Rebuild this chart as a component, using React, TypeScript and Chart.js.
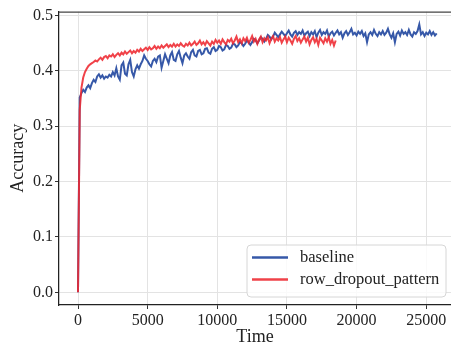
import React, { useEffect, useRef } from "react";
import { Chart, registerables } from "chart.js";

Chart.register(...registerables);

const baselineTime = [
  0, 125, 250, 375, 500, 625, 750, 875,
  1000, 1125, 1250, 1375, 1500, 1625, 1750, 1875,
  2000, 2125, 2250, 2375, 2500, 2625, 2750, 2875,
  3000, 3125, 3250, 3375, 3500, 3625, 3750, 3875,
  4000, 4125, 4250, 4375, 4500, 4625, 4750, 4875,
  5000, 5125, 5250, 5375, 5500, 5625, 5750, 5875,
  6000, 6125, 6250, 6375, 6500, 6625, 6750, 6875,
  7000, 7125, 7250, 7375, 7500, 7625, 7750, 7875,
  8000, 8125, 8250, 8375, 8500, 8625, 8750, 8875,
  9000, 9125, 9250, 9375, 9500, 9625, 9750, 9875,
  10000, 10125, 10250, 10375, 10500, 10625, 10750, 10875,
  11000, 11125, 11250, 11375, 11500, 11625, 11750, 11875,
  12000, 12125, 12250, 12375, 12500, 12625, 12750, 12875,
  13000, 13125, 13250, 13375, 13500, 13625, 13750, 13875,
  14000, 14125, 14250, 14375, 14500, 14625, 14750, 14875,
  15000, 15125, 15250, 15375, 15500, 15625, 15750, 15875,
  16000, 16125, 16250, 16375, 16500, 16625, 16750, 16875,
  17000, 17125, 17250, 17375, 17500, 17625, 17750, 17875,
  18000, 18125, 18250, 18375, 18500, 18625, 18750, 18875,
  19000, 19125, 19250, 19375, 19500, 19625, 19750, 19875,
  20000, 20125, 20250, 20375, 20500, 20625, 20750, 20875,
  21000, 21125, 21250, 21375, 21500, 21625, 21750, 21875,
  22000, 22125, 22250, 22375, 22500, 22625, 22750, 22875,
  23000, 23125, 23250, 23375, 23500, 23625, 23750, 23875,
  24000, 24125, 24250, 24375, 24500, 24625, 24750, 24875,
  25000, 25125, 25250, 25375, 25500, 25625, 25750,
];
const baselineAcc = [
  0.0, 0.352, 0.36, 0.366, 0.362, 0.37, 0.374, 0.369,
  0.378, 0.384, 0.38, 0.39, 0.394, 0.388, 0.392, 0.386,
  0.39, 0.388, 0.393, 0.39, 0.398, 0.392, 0.405, 0.39,
  0.384, 0.41, 0.415, 0.395, 0.392, 0.412, 0.42, 0.398,
  0.39, 0.403, 0.41, 0.404, 0.412, 0.418, 0.428, 0.422,
  0.418, 0.412, 0.408, 0.418, 0.422, 0.416, 0.426, 0.428,
  0.406, 0.418, 0.43, 0.422, 0.414, 0.428, 0.434, 0.42,
  0.418, 0.43, 0.436, 0.424, 0.414, 0.428, 0.432, 0.426,
  0.422, 0.434, 0.438, 0.428, 0.426, 0.436, 0.438, 0.43,
  0.432, 0.44, 0.441, 0.433, 0.431, 0.44, 0.443, 0.436,
  0.438, 0.445, 0.443, 0.437, 0.439, 0.447, 0.445, 0.44,
  0.442, 0.449, 0.448, 0.443, 0.446, 0.452, 0.45, 0.445,
  0.449, 0.455, 0.452, 0.447, 0.452, 0.458, 0.455, 0.45,
  0.455, 0.461, 0.458, 0.453, 0.458, 0.465, 0.462, 0.457,
  0.462, 0.469, 0.465, 0.461, 0.466, 0.471, 0.467, 0.463,
  0.468, 0.473, 0.466, 0.462, 0.469, 0.472, 0.465, 0.47,
  0.467, 0.473, 0.464, 0.468, 0.471, 0.463, 0.47, 0.466,
  0.472, 0.461, 0.469, 0.474, 0.465, 0.47, 0.467, 0.473,
  0.462, 0.468, 0.471, 0.464, 0.469, 0.473, 0.466, 0.47,
  0.46, 0.468, 0.472, 0.465, 0.47, 0.476, 0.466, 0.469,
  0.464, 0.471, 0.467, 0.472, 0.463, 0.468, 0.452, 0.466,
  0.47, 0.465, 0.474, 0.467, 0.463, 0.47, 0.466, 0.472,
  0.465, 0.469, 0.476, 0.466, 0.46, 0.468, 0.452, 0.467,
  0.471, 0.464, 0.473, 0.467, 0.47, 0.465, 0.474, 0.466,
  0.462, 0.47, 0.467, 0.472, 0.484, 0.466, 0.47, 0.463,
  0.469, 0.466, 0.472, 0.465, 0.47, 0.464, 0.468,
];

const rowDropoutTime = [
  0, 125, 250, 375, 500, 625, 750, 875,
  1000, 1125, 1250, 1375, 1500, 1625, 1750, 1875,
  2000, 2125, 2250, 2375, 2500, 2625, 2750, 2875,
  3000, 3125, 3250, 3375, 3500, 3625, 3750, 3875,
  4000, 4125, 4250, 4375, 4500, 4625, 4750, 4875,
  5000, 5125, 5250, 5375, 5500, 5625, 5750, 5875,
  6000, 6125, 6250, 6375, 6500, 6625, 6750, 6875,
  7000, 7125, 7250, 7375, 7500, 7625, 7750, 7875,
  8000, 8125, 8250, 8375, 8500, 8625, 8750, 8875,
  9000, 9125, 9250, 9375, 9500, 9625, 9750, 9875,
  10000, 10125, 10250, 10375, 10500, 10625, 10750, 10875,
  11000, 11125, 11250, 11375, 11500, 11625, 11750, 11875,
  12000, 12125, 12250, 12375, 12500, 12625, 12750, 12875,
  13000, 13125, 13250, 13375, 13500, 13625, 13750, 13875,
  14000, 14125, 14250, 14375, 14500, 14625, 14750, 14875,
  15000, 15125, 15250, 15375, 15500, 15625, 15750, 15875,
  16000, 16125, 16250, 16375, 16500, 16625, 16750, 16875,
  17000, 17125, 17250, 17375, 17500, 17625, 17750, 17875,
  18000, 18125, 18250, 18375, 18500,
];
const rowDropoutAcc = [
  0.0, 0.33, 0.37, 0.388, 0.398, 0.404, 0.409, 0.412,
  0.414, 0.416, 0.419, 0.417, 0.421, 0.424, 0.42, 0.425,
  0.427, 0.423, 0.428, 0.426, 0.43, 0.425, 0.429, 0.432,
  0.428, 0.433, 0.43, 0.435, 0.431, 0.434, 0.437, 0.432,
  0.436, 0.433, 0.438, 0.435, 0.44, 0.436, 0.439, 0.442,
  0.438, 0.443, 0.439, 0.441, 0.445, 0.44, 0.444, 0.441,
  0.446, 0.442, 0.445, 0.448, 0.443, 0.447, 0.444, 0.449,
  0.444, 0.448, 0.445, 0.45, 0.446, 0.444, 0.449, 0.446,
  0.451, 0.446, 0.449, 0.453, 0.447, 0.45, 0.455, 0.448,
  0.452, 0.447, 0.454, 0.45, 0.446, 0.453, 0.449, 0.456,
  0.451, 0.455, 0.449, 0.457, 0.452, 0.448, 0.456, 0.453,
  0.458, 0.45, 0.455, 0.462, 0.452, 0.457, 0.45, 0.459,
  0.454, 0.46, 0.451, 0.456, 0.463, 0.453, 0.458, 0.449,
  0.457, 0.462, 0.452, 0.459, 0.455, 0.461, 0.45, 0.458,
  0.463, 0.453, 0.459, 0.455, 0.461, 0.451, 0.457, 0.462,
  0.452, 0.46, 0.455, 0.449, 0.458, 0.463, 0.454, 0.459,
  0.451, 0.457, 0.462, 0.453, 0.46, 0.448, 0.456, 0.461,
  0.452, 0.458, 0.447, 0.46, 0.455, 0.45, 0.459, 0.453,
  0.461, 0.449, 0.456, 0.446, 0.455,
];

const xTicks = [0, 5000, 10000, 15000, 20000, 25000];
const yTicks = [0.0, 0.1, 0.2, 0.3, 0.4, 0.5];
const seriesLabels = ["baseline", "row_dropout_pattern"];

const FONT = "'Liberation Serif', 'Times New Roman', serif";
const BLUE = "#3658a8";
const RED = "rgba(238, 40, 48, 0.88)";

const framePlugin = {
  id: "frame",
  afterDraw(chart: any) {
    const { ctx, chartArea } = chart;
    ctx.save();
    // top spine
    ctx.strokeStyle = "#444";
    ctx.lineWidth = 1.25;
    ctx.beginPath();
    ctx.moveTo(chartArea.left, chartArea.top + 0.5);
    ctx.lineTo(chartArea.right, chartArea.top + 0.5);
    ctx.stroke();

    // legend
    const boxR = chartArea.right - 5;
    const boxB = chartArea.bottom - 8;
    const boxW = 199;
    const boxH = 52;
    const boxL = boxR - boxW;
    const boxT = boxB - boxH;
    const r = 4;
    ctx.beginPath();
    ctx.moveTo(boxL + r, boxT);
    ctx.lineTo(boxR - r, boxT);
    ctx.quadraticCurveTo(boxR, boxT, boxR, boxT + r);
    ctx.lineTo(boxR, boxB - r);
    ctx.quadraticCurveTo(boxR, boxB, boxR - r, boxB);
    ctx.lineTo(boxL + r, boxB);
    ctx.quadraticCurveTo(boxL, boxB, boxL, boxB - r);
    ctx.lineTo(boxL, boxT + r);
    ctx.quadraticCurveTo(boxL, boxT, boxL + r, boxT);
    ctx.closePath();
    ctx.fillStyle = "rgba(255,255,255,0.8)";
    ctx.fill();
    ctx.strokeStyle = "#d6d6d6";
    ctx.lineWidth = 1;
    ctx.stroke();

    const ds = chart.data.datasets;
    ds.forEach((d: any, i: number) => {
      const y = boxT + 12.5 + i * 22;
      ctx.strokeStyle = d.borderColor;
      ctx.lineWidth = 2.5;
      ctx.beginPath();
      ctx.moveTo(boxL + 5, y);
      ctx.lineTo(boxL + 41, y);
      ctx.stroke();
      ctx.fillStyle = "#222";
      ctx.font = `16.5px ${FONT}`;
      ctx.textBaseline = "middle";
      ctx.textAlign = "left";
      ctx.fillText(d.label, boxL + 53, y);
    });
    ctx.restore();
  },
};

export default function App() {
  const ref = useRef<HTMLCanvasElement | null>(null);

  useEffect(() => {
    document.body.style.margin = "0";
    const canvas = ref.current;
    if (!canvas) return;
    const chart = new Chart(canvas, {
      type: "line",
      data: {
        datasets: [
          {
            label: seriesLabels[0],
            data: baselineTime.map((t, i) => ({ x: t, y: baselineAcc[i] })),
            borderColor: BLUE,
            backgroundColor: BLUE,
            borderWidth: 2,
            pointRadius: 0,
            tension: 0,
            order: 1,
          },
          {
            label: seriesLabels[1],
            data: rowDropoutTime.map((t, i) => ({ x: t, y: rowDropoutAcc[i] })),
            borderColor: RED,
            backgroundColor: RED,
            borderWidth: 2,
            pointRadius: 0,
            tension: 0,
            order: 0,
          },
        ],
      },
      options: {
        responsive: false,
        animation: false,
        devicePixelRatio: 1,
        layout: { padding: { top: 11, right: 0, left: 0, bottom: 0 } },
        plugins: {
          legend: { display: false },
          tooltip: { enabled: false },
        },
        scales: {
          x: {
            type: "linear",
            min: -1364,
            max: 26777,
            afterBuildTicks: (axis: any) => {
              axis.ticks = xTicks.map((v) => ({ value: v }));
            },
            afterFit: (axis: any) => {
              axis.height = 43;
            },
            grid: { color: "#e3e3e3", lineWidth: 1, tickColor: "#333", tickLength: 4 },
            border: { color: "#222", width: 1.25 },
            ticks: {
              color: "#222",
              font: { family: FONT, size: 16 },
              padding: 2,
              maxRotation: 0,
              callback: (v: any) => String(v),
            },
            title: {
              display: true,
              text: "Time",
              color: "#222",
              font: { family: FONT, size: 18 },
              padding: { top: 0, bottom: 0 },
            },
          },
          y: {
            type: "linear",
            min: -0.0229,
            max: 0.5072,
            afterBuildTicks: (axis: any) => {
              axis.ticks = yTicks.map((v) => ({ value: v }));
            },
            afterFit: (axis: any) => {
              axis.width = 59;
            },
            grid: { color: "#e3e3e3", lineWidth: 1, tickColor: "#333", tickLength: 4 },
            border: { color: "#222", width: 1.25 },
            ticks: {
              color: "#222",
              font: { family: FONT, size: 16 },
              padding: 2,
              callback: (v: any) => Number(v).toFixed(1),
            },
            title: {
              display: true,
              text: "Accuracy",
              color: "#222",
              font: { family: FONT, size: 18 },
              padding: { top: 7, bottom: 0 },
            },
          },
        },
      },
      plugins: [framePlugin],
    });
    return () => chart.destroy();
  }, []);

  return (
    <div style={{ position: "absolute", left: 0, top: 0, width: 451, height: 348 }}>
      <canvas ref={ref} width={451} height={348} style={{ display: "block", width: 451, height: 348 }} />
    </div>
  );
}
